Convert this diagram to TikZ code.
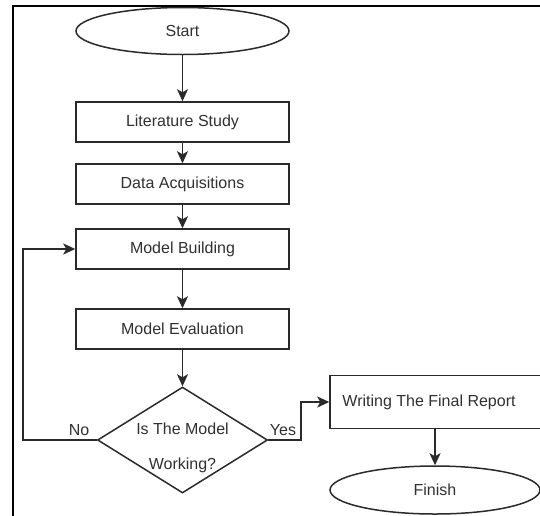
\documentclass[tikz,border=0pt]{standalone}
\usepackage{fontspec}
\setmainfont{Liberation Sans}
\usetikzlibrary{shapes.geometric,arrows.meta}
\definecolor{ink}{HTML}{2A2A2A}
\definecolor{txt}{HTML}{303030}
\begin{document}
\begin{tikzpicture}[x=1pt,y=-1pt,
  every node/.style={font=\fontsize{16}{18}\selectfont,text=txt},
  procbox/.style={draw=ink,line width=1.5pt,rectangle,minimum width=213pt,minimum height=40pt,inner sep=0pt},
  terminal/.style={draw=ink,line width=1.5pt,ellipse,minimum width=213pt,minimum height=47pt,inner sep=0pt},
  decision/.style={draw=ink,line width=1.5pt,diamond,minimum width=170pt,minimum height=106pt,inner sep=0pt},
  flow/.style={draw=ink,line width=1.5pt,-{Stealth[length=12pt,width=11pt,inset=3pt]}},
]
\useasboundingbox (0,0) rectangle (540,515);
% outer frame, running off the right and bottom edges
\begin{scope}
  \clip (0,0) rectangle (540,515);
  \draw[black,line width=2.2pt] (13,6) rectangle (560,540);
\end{scope}

% main column
\node[terminal] (start) at (182.5,31) {Start};
\node[procbox] (lit) at (182.5,122) {Literature Study};
\node[procbox] (data) at (182.5,184) {Data Acquisitions};
\node[procbox] (build) at (182.5,249) {Model Building};
\node[procbox] (eval) at (182.5,329) {Model Evaluation};
\node[decision] (dec) at (182.5,440) {};
\node[align=center,font=\fontsize{16}{35}\selectfont] (dectext) at (182.5,448) {Is The Model\\Working?};

% right branch: the report box runs past the right edge
\node[procbox,minimum width=220pt,minimum height=53pt] (report) at (440,402) {};
\node (reporttext) at (429,402) {Writing The Final Report};
\node[terminal,minimum width=210pt,minimum height=48pt] (finish) at (435,490) {Finish};

% branch labels
\node (no) at (79,430) {No};
\node (yes) at (283,430) {Yes};

% connectors
\draw[flow] (start) -- (lit);
\draw[flow] (lit) -- (data);
\draw[flow] (data) -- (build);
\draw[flow] (build) -- (eval);
\draw[flow] (eval) -- (dec);
\coordinate (loopbot) at (23,440);
\coordinate (looptop) at (23,249);
\draw[flow] (dec.west) -- (loopbot) -- (looptop) -- (build.west);
\coordinate (yesbot) at (301,440);
\coordinate (yestop) at (301,402);
\draw[flow] (dec.east) -- (yesbot) -- (yestop) -- (report.west);
\coordinate (reportfoot) at (435,428.5);
\draw[flow] (reportfoot) -- (finish);
\end{tikzpicture}
\end{document}
